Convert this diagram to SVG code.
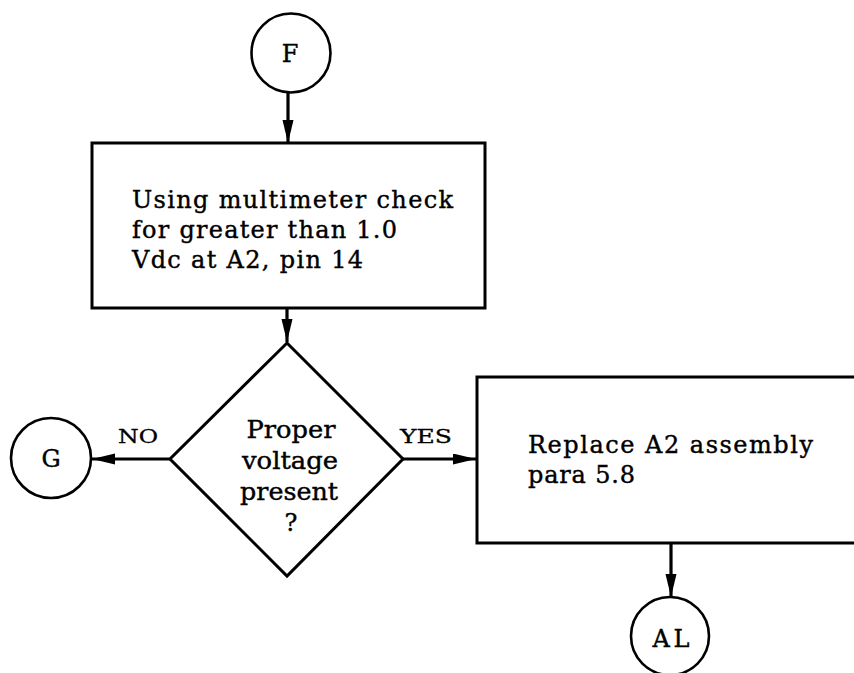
<svg xmlns="http://www.w3.org/2000/svg" width="854" height="673" viewBox="0 0 854 673">
  <style>
    .shape { fill: none; stroke: #000; stroke-width: 3; stroke-linejoin: miter; }
    .ring { fill: #fff; stroke: #000; stroke-width: 2.6; }
    .flow { fill: none; stroke: #000; stroke-width: 3.2; }
    .txt { font-family: "DejaVu Serif", "Liberation Serif", serif; font-size: 24px; fill: #000; stroke: #000; stroke-width: 0.4; }
    .mid { text-anchor: middle; }
    .lbl { font-family: "DejaVu Serif", "Liberation Serif", serif; font-size: 19px; fill: #000; stroke: #000; stroke-width: 0.3; }
  </style>
  <defs>
    <marker id="arrow" markerUnits="userSpaceOnUse" markerWidth="24" markerHeight="12" refX="23" refY="5.5" orient="auto">
      <path d="M0,0 L23,5.5 L0,11 Z" fill="#000"/>
    </marker>
  </defs>

  <rect x="0" y="0" width="854" height="673" fill="#fff"/>

  <!-- connectors -->
  <g id="connectors">
    <line class="flow" x1="288" y1="92" x2="288" y2="143" marker-end="url(#arrow)"/>
    <line class="flow" x1="287" y1="308" x2="287" y2="342" marker-end="url(#arrow)"/>
    <line class="flow" x1="170" y1="459" x2="92" y2="459" marker-end="url(#arrow)"/>
    <line class="flow" x1="403" y1="459" x2="476" y2="459" marker-end="url(#arrow)"/>
    <line class="flow" x1="671" y1="543" x2="671" y2="597" marker-end="url(#arrow)"/>
    <text class="lbl" x="118" y="443" textLength="40" lengthAdjust="spacingAndGlyphs">NO</text>
    <text class="lbl" x="400" y="443" textLength="52" lengthAdjust="spacingAndGlyphs">YES</text>
  </g>

  <!-- connector F -->
  <g id="node-f">
    <circle class="ring" cx="291" cy="53" r="39.5"/>
    <text class="txt mid" x="290" y="62">F</text>
  </g>

  <!-- multimeter check step -->
  <g id="node-check">
    <rect class="shape" x="92" y="143" width="393" height="165"/>
    <text class="txt" x="132" y="208" textLength="321" lengthAdjust="spacing">Using multimeter check</text>
    <text class="txt" x="132" y="238" textLength="265" lengthAdjust="spacing">for greater than 1.0</text>
    <text class="txt" x="132" y="268" textLength="231" lengthAdjust="spacing">Vdc at A2, pin 14</text>
  </g>

  <!-- voltage decision -->
  <g id="node-decision">
    <polygon class="shape" points="287,343 403,459 287,576 170,459"/>
    <text class="txt mid" x="291" y="438" textLength="89" lengthAdjust="spacingAndGlyphs">Proper</text>
    <text class="txt mid" x="290" y="469" textLength="96" lengthAdjust="spacingAndGlyphs">voltage</text>
    <text class="txt mid" x="289" y="500" textLength="98" lengthAdjust="spacingAndGlyphs">present</text>
    <text class="txt mid" x="291" y="531">?</text>
  </g>

  <!-- connector G -->
  <g id="node-g">
    <circle class="ring" cx="51" cy="458" r="40"/>
    <text class="txt mid" x="51" y="467">G</text>
  </g>

  <!-- replace A2 step (runs past the right edge) -->
  <g id="node-replace">
    <rect class="shape" x="477" y="377" width="420" height="166"/>
    <text class="txt" x="528" y="453" textLength="285" lengthAdjust="spacing">Replace A2 assembly</text>
    <text class="txt" x="528" y="483" textLength="107" lengthAdjust="spacing">para 5.8</text>
  </g>

  <!-- connector AL -->
  <g id="node-al">
    <circle class="ring" cx="670" cy="636" r="39"/>
    <text class="txt mid" x="671" y="647" textLength="37" lengthAdjust="spacing">AL</text>
  </g>
</svg>
